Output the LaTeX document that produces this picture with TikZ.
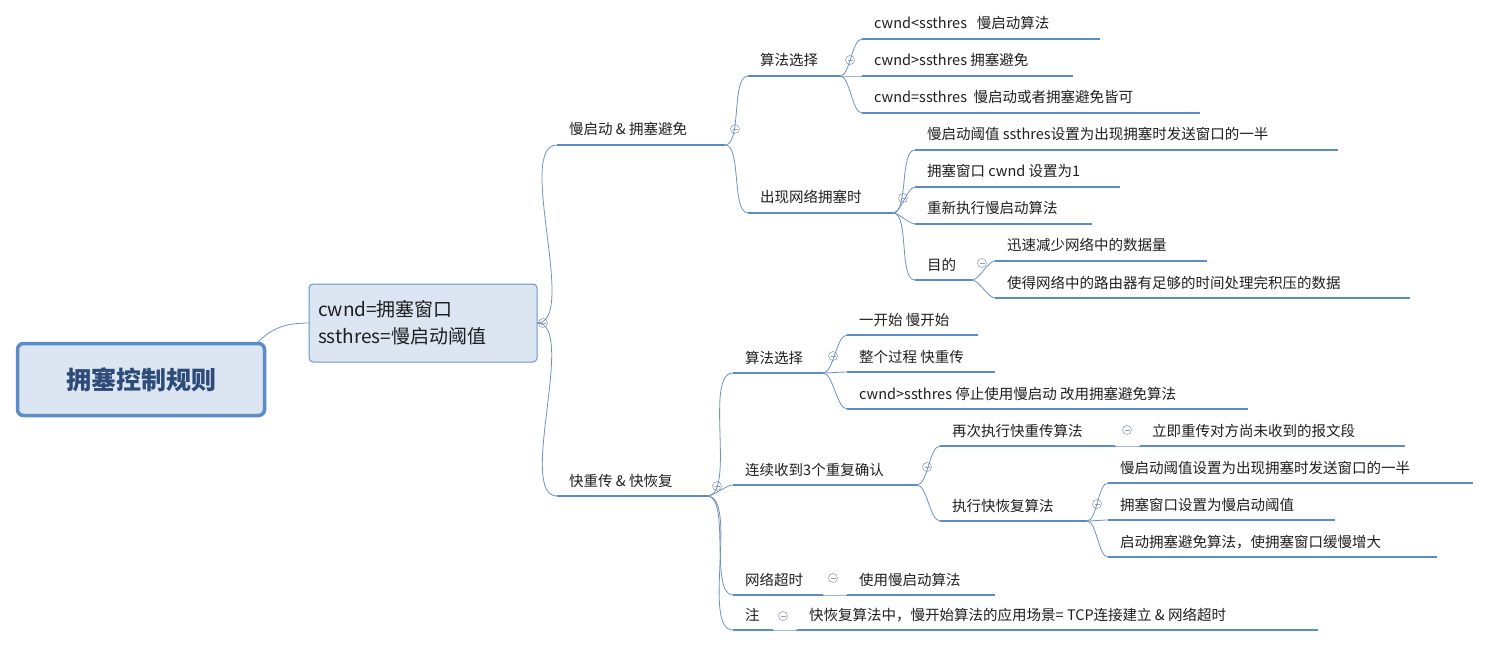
\documentclass[tikz,border=0pt]{standalone}
\usepackage{fontspec}
\setmainfont{Noto Sans CJK SC}
\definecolor{ulc}{RGB}{91,140,200}
\definecolor{cnc}{RGB}{110,145,195}
\definecolor{icc}{RGB}{150,160,175}
\definecolor{fillc}{RGB}{220,230,242}
\definecolor{rootb}{RGB}{91,140,200}
\definecolor{roott}{RGB}{45,75,120}
\definecolor{defb}{RGB}{106,147,200}
\definecolor{txt}{RGB}{30,30,30}
\begin{document}
\begin{tikzpicture}[x=1pt,y=-1pt,
  ul/.style={line width=2.6pt,draw=ulc},
  conn/.style={line width=0.8pt,draw=cnc},
  lbl/.style={anchor=base west,inner sep=0pt,font=\fontsize{14.5}{16}\selectfont,text=txt},
  icon/.style={circle,draw=icc,line width=0.6pt,minimum size=9pt,inner sep=0pt,
    path picture={\draw[icc,line width=0.6pt] ([xshift=-2.5pt]path picture bounding box.center)--([xshift=2.5pt]path picture bounding box.center);}}]
\useasboundingbox (0,0) rectangle (1488,655);
\newcommand\tp[5]{\coordinate (#1S) at (#2,#4); \coordinate (#1E) at (#3,#4);
  \draw[ul] (#1S) -- (#1E); \node[lbl] (#1) at (#2+12,#4-10) {#5};}
\newcommand\ic[3]{\node[icon] (#1) at (#2,#3) {};}
\newcommand\cn[2]{\draw[conn] (#1E) to[out=0,in=180,looseness=0.6] (#2S);}
% root
\node[draw=rootb,line width=3.5pt,rounded corners=6pt,fill=fillc,
  minimum width=247pt,minimum height=72pt,font=\bfseries\fontsize{25}{28}\selectfont,text=roott]
  (root) at (141,379.5) {拥塞控制规则};
\node[draw=defb,line width=1pt,rounded corners=4pt,fill=fillc,
  minimum width=228pt,minimum height=78pt,align=left,font=\fontsize{19}{27}\selectfont,text=txt,text width=210pt]
  (def) at (423,323) {cwnd=拥塞窗口\\ssthres=慢启动阈值};
\coordinate (rootE) at (258,342); \coordinate (defS) at (309,323); \coordinate (defE) at (537,323);
\draw[conn] (rootE) to[out=45,in=180] (defS);
\ic{i0}{543}{323}
% level 1
\tp{a}{557}{725}{145}{慢启动 \& 拥塞避免} \ic{ia}{735}{129}
\tp{b}{557}{707}{496}{快重传 \& 快恢复} \ic{ib}{717}{486}
\cn{def}{a} \cn{def}{b}
% under a
\tp{a1}{748}{840}{76}{算法选择} \ic{ia1}{850}{60}
\tp{a2}{748}{893}{213}{出现网络拥塞时} \ic{ia2}{903}{198}
\cn{a}{a1} \cn{a}{a2}
\tp{a11}{862}{1100}{39}{cwnd<ssthres\ \ \ 慢启动算法}
\tp{a12}{862}{1073}{76}{cwnd>ssthres 拥塞避免}
\tp{a13}{862}{1200}{113}{cwnd=ssthres\ \ 慢启动或者拥塞避免皆可}
\cn{a1}{a11} \cn{a1}{a12} \cn{a1}{a13}
\tp{a21}{915}{1338}{150}{慢启动阈值 ssthres设置为出现拥塞时发送窗口的一半}
\tp{a22}{915}{1120}{187}{拥塞窗口 cwnd 设置为1}
\tp{a23}{915}{1092}{224}{重新执行慢启动算法}
\tp{a24}{915}{972}{280}{目的} \ic{ia24}{982}{263}
\cn{a2}{a21} \cn{a2}{a22} \cn{a2}{a23} \cn{a2}{a24}
\tp{a241}{995}{1207}{261}{迅速减少网络中的数据量}
\tp{a242}{995}{1410}{298}{使得网络中的路由器有足够的时间处理完积压的数据}
\cn{a24}{a241} \cn{a24}{a242}
% under b
\tp{b1}{733}{823}{373}{算法选择} \ic{ib1}{833}{356}
\tp{b2}{733}{917}{485}{连续收到3个重复确认} \ic{ib2}{927}{467}
\tp{b3}{733}{823}{595}{网络超时} \ic{ib3}{833}{578}
\tp{b4}{733}{773}{630}{注} \ic{ib4}{783}{616}
\cn{b}{b1} \cn{b}{b2} \cn{b}{b3} \cn{b}{b4}
\tp{b11}{847}{978}{335}{一开始 慢开始}
\tp{b12}{847}{995}{372}{整个过程 快重传}
\tp{b13}{847}{1248}{409}{cwnd>ssthres 停止使用慢启动 改用拥塞避免算法}
\cn{b1}{b11} \cn{b1}{b12} \cn{b1}{b13}
\tp{b21}{940}{1115}{446}{再次执行快重传算法} \ic{ib21}{1127}{430}
\tp{b22}{940}{1087}{521}{执行快恢复算法} \ic{ib22}{1097}{504}
\cn{b2}{b21} \cn{b2}{b22}
\tp{b211}{1140}{1405}{446}{立即重传对方尚未收到的报文段}
\cn{b21}{b211}
\tp{b221}{1108}{1473}{483}{慢启动阈值设置为出现拥塞时发送窗口的一半}
\tp{b222}{1108}{1335}{520}{拥塞窗口设置为慢启动阈值}
\tp{b223}{1108}{1437}{557}{启动拥塞避免算法，使拥塞窗口缓慢增大}
\cn{b22}{b221} \cn{b22}{b222} \cn{b22}{b223}
\tp{b31}{847}{995}{595}{使用慢启动算法}
\cn{b3}{b31}
\tp{b41}{797}{1318}{630}{快恢复算法中，慢开始算法的应用场景= TCP连接建立 \& 网络超时}
\cn{b4}{b41}
\end{tikzpicture}
\end{document}
